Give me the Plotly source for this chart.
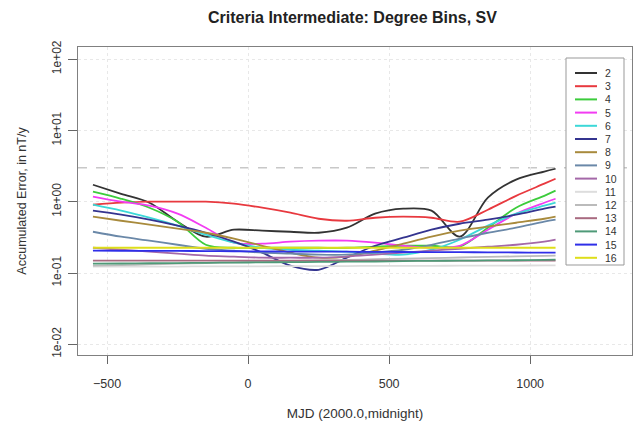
import plotly.graph_objects as go

# MJD sample positions (shared by all series)
mjd = [-550, -450, -350, -250, -150, -50, 50, 150, 250, 350, 450, 550, 650, 750, 850, 950, 1050, 1090]

deg2 = [1.73, 1.29, 0.968, 0.524, 0.323, 0.405, 0.392, 0.379, 0.367, 0.432, 0.679, 0.798, 0.748, 0.324, 1.14, 2.04, 2.64, 2.90]
deg3 = [0.907, 0.968, 1.0, 1.0, 1.0, 0.937, 0.824, 0.701, 0.577, 0.541, 0.596, 0.616, 0.596, 0.524, 0.772, 1.21, 1.79, 2.10]
deg4 = [1.38, 1.10, 0.824, 0.524, 0.249, 0.226, 0.226, 0.226, 0.226, 0.226, 0.234, 0.241, 0.241, 0.234, 0.432, 0.824, 1.21, 1.43]
deg5 = [1.18, 1.0, 0.879, 0.679, 0.432, 0.266, 0.258, 0.275, 0.284, 0.284, 0.266, 0.241, 0.226, 0.241, 0.405, 0.679, 0.968, 1.10]
deg6 = [0.907, 0.748, 0.596, 0.461, 0.345, 0.266, 0.226, 0.212, 0.206, 0.199, 0.187, 0.181, 0.212, 0.293, 0.461, 0.679, 0.879, 0.968]
deg7 = [0.748, 0.657, 0.559, 0.461, 0.367, 0.275, 0.193, 0.127, 0.111, 0.164, 0.241, 0.313, 0.405, 0.491, 0.559, 0.657, 0.798, 0.851]
deg8 = [0.616, 0.541, 0.476, 0.418, 0.367, 0.303, 0.241, 0.193, 0.164, 0.170, 0.206, 0.258, 0.323, 0.392, 0.446, 0.507, 0.577, 0.616]
deg9 = [0.379, 0.323, 0.284, 0.249, 0.219, 0.206, 0.193, 0.187, 0.181, 0.181, 0.193, 0.212, 0.249, 0.303, 0.367, 0.432, 0.524, 0.559]
deg10 = [0.226, 0.212, 0.199, 0.187, 0.175, 0.170, 0.164, 0.164, 0.164, 0.170, 0.181, 0.193, 0.206, 0.219, 0.234, 0.249, 0.275, 0.293]
deg11 = [0.123, 0.123, 0.123, 0.123, 0.124, 0.124, 0.124, 0.125, 0.125, 0.125, 0.126, 0.126, 0.126, 0.127, 0.127, 0.127, 0.128, 0.128]
deg12 = [0.127, 0.129, 0.132, 0.135, 0.138, 0.141, 0.144, 0.147, 0.150, 0.153, 0.156, 0.159, 0.162, 0.165, 0.168, 0.171, 0.174, 0.175]
deg13 = [0.149, 0.149, 0.149, 0.149, 0.149, 0.149, 0.149, 0.149, 0.149, 0.149, 0.149, 0.149, 0.149, 0.149, 0.149, 0.149, 0.149, 0.149]
deg14 = [0.135, 0.136, 0.137, 0.138, 0.139, 0.140, 0.141, 0.142, 0.143, 0.144, 0.145, 0.147, 0.148, 0.149, 0.150, 0.151, 0.153, 0.154]
deg15 = [0.206, 0.205, 0.204, 0.204, 0.203, 0.202, 0.201, 0.200, 0.200, 0.199, 0.198, 0.197, 0.196, 0.196, 0.195, 0.194, 0.193, 0.193]
deg16 = [0.226, 0.226, 0.226, 0.226, 0.226, 0.226, 0.226, 0.226, 0.226, 0.226, 0.226, 0.226, 0.226, 0.226, 0.226, 0.226, 0.226, 0.226]

degrees = ["2", "3", "4", "5", "6", "7", "8", "9", "10", "11", "12", "13", "14", "15", "16"]
series = [deg2, deg3, deg4, deg5, deg6, deg7, deg8, deg9, deg10, deg11, deg12, deg13, deg14, deg15, deg16]
colors = ["#333333", "#e8393f", "#3ccc3c", "#f23cf2", "#3cd8d8", "#34348f", "#a88a3c",
          "#6a88a8", "#a468a8", "#dddddd", "#bbbbbb", "#a86a80", "#4f9a78", "#2f2fe8", "#dede1a"]

threshold = 3
y_ticks = [0.01, 0.1, 1, 10, 100]
y_tick_text = ["1e-02", "1e-01", "1e+00", "1e+01", "1e+02"]
x_ticks = [-500, 0, 500, 1000]

W, H = 642, 428
ML, MR, MT, MB = 78, 10, 47, 73
PW, PH = W - ML - MR, H - MT - MB


def px_x(px):
    return (px - ML) / PW


def px_y(py):
    return (MT + PH - py) / PH


# dashed reference level, then an R-style legend box (pixel layout -> paper fractions)
shapes = [dict(type="line", xref="paper", yref="y", x0=0, x1=1, y0=threshold, y1=threshold,
               line=dict(color="#c8c8c8", width=1.5, dash="dash"), layer="below")]
leg_left, leg_right, leg_top, leg_bottom = 566, 624, 58, 265
first_row, row_step = 73, 13.2
shapes.append(dict(type="rect", xref="paper", yref="paper",
                   x0=px_x(leg_left), x1=px_x(leg_right), y0=px_y(leg_bottom), y1=px_y(leg_top),
                   line=dict(color="#999999", width=1), fillcolor="white", layer="above"))
annotations = []
for i, (name, col) in enumerate(zip(degrees, colors)):
    yy = px_y(first_row + i * row_step)
    shapes.append(dict(type="line", xref="paper", yref="paper",
                       x0=px_x(575), x1=px_x(597), y0=yy, y1=yy,
                       line=dict(color=col, width=2), layer="above"))
    annotations.append(dict(xref="paper", yref="paper", x=px_x(603), y=yy, text=name,
                            showarrow=False, xanchor="left", yanchor="middle",
                            font=dict(size=10.5, color="#333333")))

font_family = "Liberation Sans, Arial, sans-serif"
layout = go.Layout(
    width=W, height=H,
    margin=dict(l=ML, r=MR, t=MT, b=MB),
    paper_bgcolor="white", plot_bgcolor="white",
    font=dict(family=font_family, size=12, color="#333333"),
    title=dict(text="<b>Criteria Intermediate: Degree Bins, SV</b>", x=0.549, xanchor="center",
               y=0.96, yanchor="middle", font=dict(size=16, color="#222222")),
    showlegend=False,
    shapes=shapes,
    annotations=annotations,
)
fig = go.Figure(layout=layout)
for name, vals, col in zip(degrees, series, colors):
    fig.add_trace(go.Scatter(x=mjd, y=vals, mode="lines", name=name, showlegend=False,
                             line=dict(color=col, width=1.8, shape="spline", smoothing=0.9)))

fig.update_xaxes(range=[-603, 1361], tickvals=x_ticks, ticks="outside", ticklen=8,
                 tickcolor="#666666", showline=True, mirror=True, linecolor="#808080",
                 showgrid=True, gridcolor="#e8e8e8", griddash="dot", zeroline=False,
                 ticklabelstandoff=9, tickfont=dict(size=12.5),
                 title=dict(text="MJD (2000.0,midnight)", standoff=18, font=dict(size=13.5)))
fig.update_yaxes(type="log", range=[-2.15, 2.17], tickvals=y_ticks, ticktext=y_tick_text,
                 tickangle=-90, ticks="outside", ticklen=9, tickcolor="#666666",
                 showline=True, mirror=True, linecolor="#808080",
                 showgrid=True, gridcolor="#e8e8e8", griddash="dot", zeroline=False,
                 ticklabelstandoff=2, tickfont=dict(size=12),
                 title=dict(text="Accumulated Error, in nT/y", standoff=20, font=dict(size=12.5)))

fig.write_html("out.html")
